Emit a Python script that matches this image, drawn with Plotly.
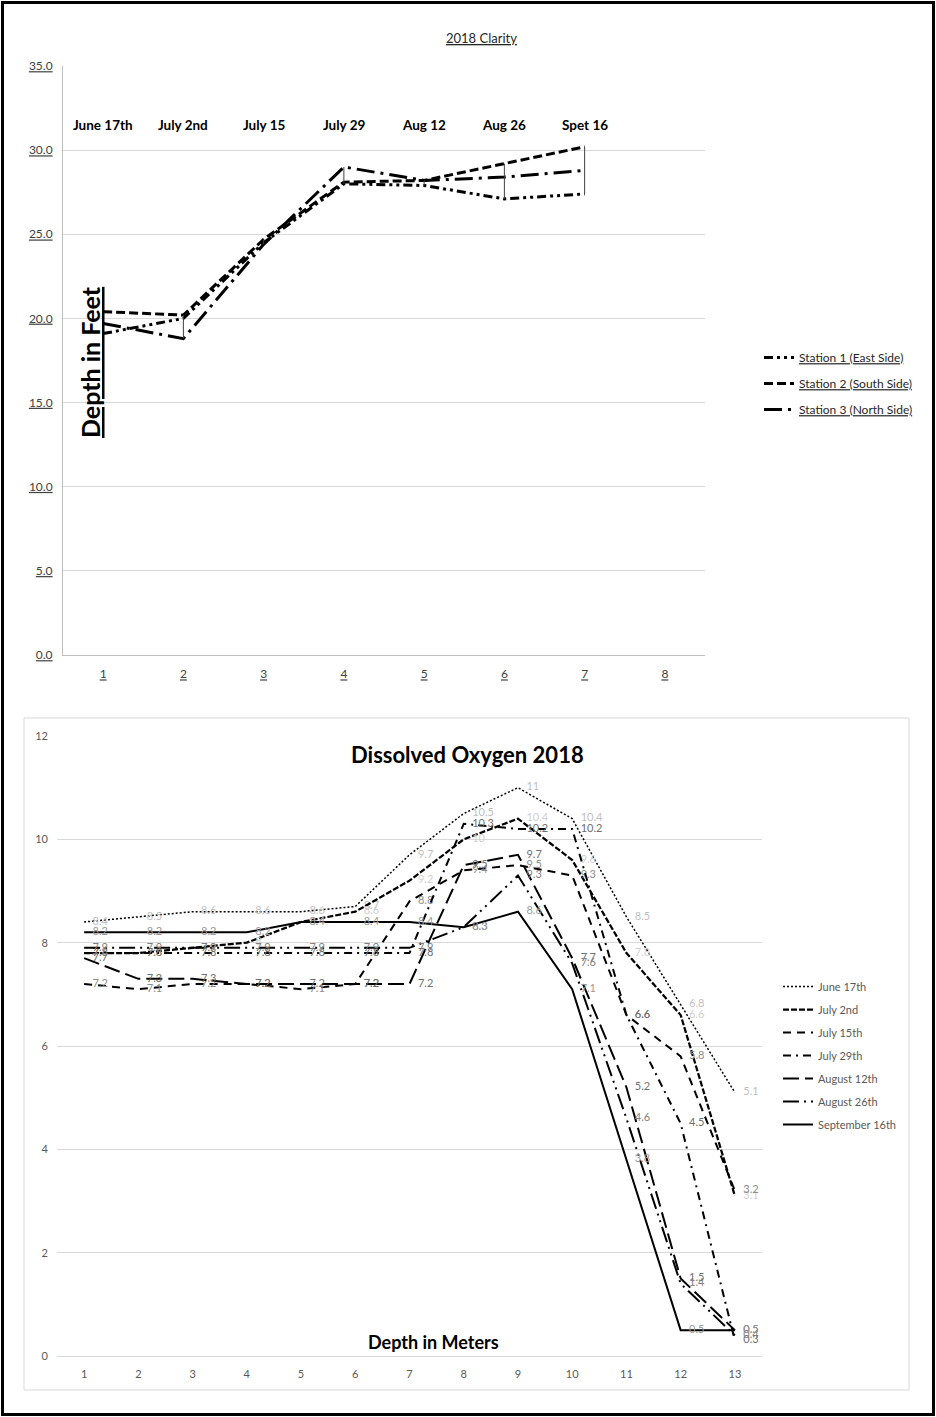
import plotly.graph_objects as go

W, H = 936, 1417
FONT = "Lato"

# ---------------- Top chart: 2018 Clarity ----------------
clarity_x = [1, 2, 3, 4, 5, 6, 7]
clarity_dates = ["June 17th", "July 2nd", "July 15", "July 29", "Aug 12", "Aug 26", "Spet 16"]
station1 = [19.1, 20.0, 24.5, 28.0, 27.9, 27.1, 27.4]
station2 = [20.4, 20.2, 24.7, 28.1, 28.2, 29.2, 30.2]
station3 = [19.7, 18.8, 24.4, 29.0, 28.2, 28.4, 28.8]
station_names = ["Station 1 (East Side)", "Station 2 (South Side)", "Station 3 (North Side)"]
clarity_xticks = [1, 2, 3, 4, 5, 6, 7, 8]
clarity_yticks = [0, 5, 10, 15, 20, 25, 30, 35]
date_label_depth = 31.5

# ---------------- Bottom chart: Dissolved Oxygen 2018 ----------------
depth_m = [1, 2, 3, 4, 5, 6, 7, 8, 9, 10, 11, 12, 13]
do_june17 = [8.4, 8.5, 8.6, 8.6, 8.6, 8.7, 9.7, 10.5, 11, 10.4, 8.5, 6.8, 5.1]
do_july2 = [7.8, 7.8, 7.9, 8.0, 8.4, 8.6, 9.2, 10, 10.4, 9.6, 7.8, 6.6, 3.1]
do_july15 = [7.2, 7.1, 7.2, 7.2, 7.1, 7.2, 8.8, 9.4, 9.5, 9.3, 6.6, 5.8, 3.2]
do_july29 = [7.8, 7.8, 7.8, 7.8, 7.8, 7.8, 7.8, 10.3, 10.2, 10.2, 6.6, 4.5, 0.3]
do_aug12 = [7.7, 7.3, 7.3, 7.2, 7.2, 7.2, 7.2, 9.5, 9.7, 7.7, 5.2, 1.5, 0.5]
do_aug26 = [7.9, 7.9, 7.9, 7.9, 7.9, 7.9, 7.9, 8.3, 9.3, 7.6, 4.6, 1.4, 0.4]
do_sept16 = [8.2, 8.2, 8.2, 8.2, 8.4, 8.4, 8.4, 8.3, 8.6, 7.1, 3.8, 0.5, 0.5]
do_names = ["June 17th", "July 2nd", "July 15th", "July 29th", "August 12th", "August 26th", "September 16th"]
do_yticks = [0, 2, 4, 6, 8, 10, 12]


def px(x):
    return x / W


def py(y):
    return 1 - y / H


fig = go.Figure()

# top chart series
top_styles = [
    dict(dash="9px,4px,3px,4px,3px,4px"),
    dict(dash="9px,4px"),
    dict(dash="18px,6px,3px,6px"),
]
for name, vals, st in zip(station_names, [station1, station2, station3], top_styles):
    fig.add_trace(go.Scatter(
        x=clarity_x, y=vals, mode="lines", name="<u>" + name + "</u>",
        line=dict(color="black", width=3, dash=st["dash"]),
        xaxis="x", yaxis="y", legend="legend", legendgroup=name,
    ))

# high-low lines computed from the data
hl_x, hl_y = [], []
for i, xv in enumerate(clarity_x):
    vals = [station1[i], station2[i], station3[i]]
    hl_x += [xv, xv, None]
    hl_y += [min(vals), max(vals), None]
fig.add_trace(go.Scatter(
    x=hl_x, y=hl_y, mode="lines", line=dict(color="#404040", width=1),
    showlegend=False, xaxis="x", yaxis="y", hoverinfo="skip",
))

# bottom chart series
do_series = [do_june17, do_july2, do_july15, do_july29, do_aug12, do_aug26, do_sept16]
do_styles = [
    dict(dash="2px,2px", width=1.5, tc="#bfbfbf"),
    dict(dash="6px,2px", width=2.25, tc="#d0d0d0"),
    dict(dash="8px,6px", width=2, tc="#8c8c8c"),
    dict(dash="8px,5px,2px,5px", width=2, tc="#6f6f6f"),
    dict(dash="16px,6px", width=2, tc="#6f6f6f"),
    dict(dash="16px,5px,2px,5px,2px,5px", width=2, tc="#7f7f7f"),
    dict(dash="solid", width=2, tc="#999999"),
]
for name, vals, st in zip(do_names, do_series, do_styles):
    fig.add_trace(go.Scatter(
        x=depth_m, y=vals, mode="lines+text", name=name,
        text=[f"   {v:g}" for v in vals], textposition="middle right",
        textfont=dict(family=FONT, size=11, color=st["tc"]),
        line=dict(color="black", width=st["width"], dash=st["dash"]),
        xaxis="x2", yaxis="y2", legend="legend2", legendgroup=name,
    ))

axis_font = dict(family=FONT, size=12, color="#404040")

fig.update_layout(
    width=W, height=H, autosize=False,
    margin=dict(l=0, r=0, t=0, b=0, pad=0, autoexpand=False),
    paper_bgcolor="white", plot_bgcolor="white",
    font=dict(family=FONT, color="#404040"),
    xaxis=dict(
        domain=[px(63), px(705)], range=[0.5, 8.5], anchor="y", automargin=False,
        tickvals=clarity_xticks, ticktext=[f"<u>{t}</u>" for t in clarity_xticks],
        showgrid=False, showline=True, linecolor="#bfbfbf", zeroline=False,
        ticks="", tickfont=axis_font, ticklabelstandoff=8,
    ),
    yaxis=dict(
        domain=[py(655), py(66)], range=[0, 35], anchor="x", automargin=False,
        tickvals=clarity_yticks, ticktext=[f"<u>{t:.1f}</u>" for t in clarity_yticks],
        showgrid=True, gridcolor="#d9d9d9", showline=True, linecolor="#bfbfbf",
        zeroline=False, ticks="", tickfont=axis_font, ticklabelstandoff=7,
    ),
    xaxis2=dict(
        domain=[px(57), px(762)], range=[0.5, 13.5], anchor="y2", automargin=False,
        tickvals=depth_m, showgrid=False, showline=True, linecolor="#d9d9d9",
        zeroline=False, ticks="", tickfont=dict(family=FONT, size=11, color="#595959"),
        ticklabelstandoff=8,
    ),
    yaxis2=dict(
        domain=[py(1356), py(736)], range=[0, 12], anchor="x2", automargin=False,
        tickvals=do_yticks, showgrid=True, gridcolor="#d9d9d9", showline=False,
        zeroline=False, ticks="", tickfont=dict(family=FONT, size=11, color="#595959"),
        ticklabelstandoff=8,
    ),
    legend=dict(
        x=px(759), y=py(343), xanchor="left", yanchor="top",
        font=dict(family=FONT, size=12, color="#262626"),
        tracegroupgap=7, bgcolor="rgba(0,0,0,0)",
    ),
    legend2=dict(
        x=px(778), y=py(972), xanchor="left", yanchor="top",
        font=dict(family=FONT, size=11, color="#595959"),
        tracegroupgap=4, bgcolor="rgba(0,0,0,0)",
    ),
    showlegend=True,
)


def ann(text, x, y, size, color="black", angle=0, xref="paper", yref="paper"):
    return dict(text=text, x=x, y=y, xref=xref, yref=yref, xanchor="center", yanchor="middle",
                textangle=angle, showarrow=False, font=dict(family=FONT, size=size, color=color))


annotations = [
    ann("<u>2018 Clarity</u>", px(482), py(38), 13, "#262626"),
    ann("<u><b>Depth in Feet</b></u>", px(90), py(362), 25, "black", angle=-90),
    ann("<b>Dissolved Oxygen 2018</b>", px(467), py(754), 22),
    ann("<b>Depth in Meters</b>", px(433), py(1342), 18),
]
for xv, lab in zip(clarity_x, clarity_dates):
    annotations.append(ann(f"<b>{lab}</b>", xv, date_label_depth, 13.5, xref="x", yref="y"))
fig.update_layout(annotations=annotations)

fig.update_layout(shapes=[
    dict(type="rect", xref="paper", yref="paper", x0=px(24), x1=px(909), y0=py(1390), y1=py(718),
         line=dict(color="#d9d9d9", width=1)),
    dict(type="rect", xref="paper", yref="paper", x0=px(2.5), x1=px(933.5), y0=py(1414.5), y1=py(2.5),
         line=dict(color="black", width=3)),
])

fig.write_html(
    "out.html",
    config={"displayModeBar": False},
    post_script="document.body.style.margin='0';document.body.style.overflow='hidden';",
)
